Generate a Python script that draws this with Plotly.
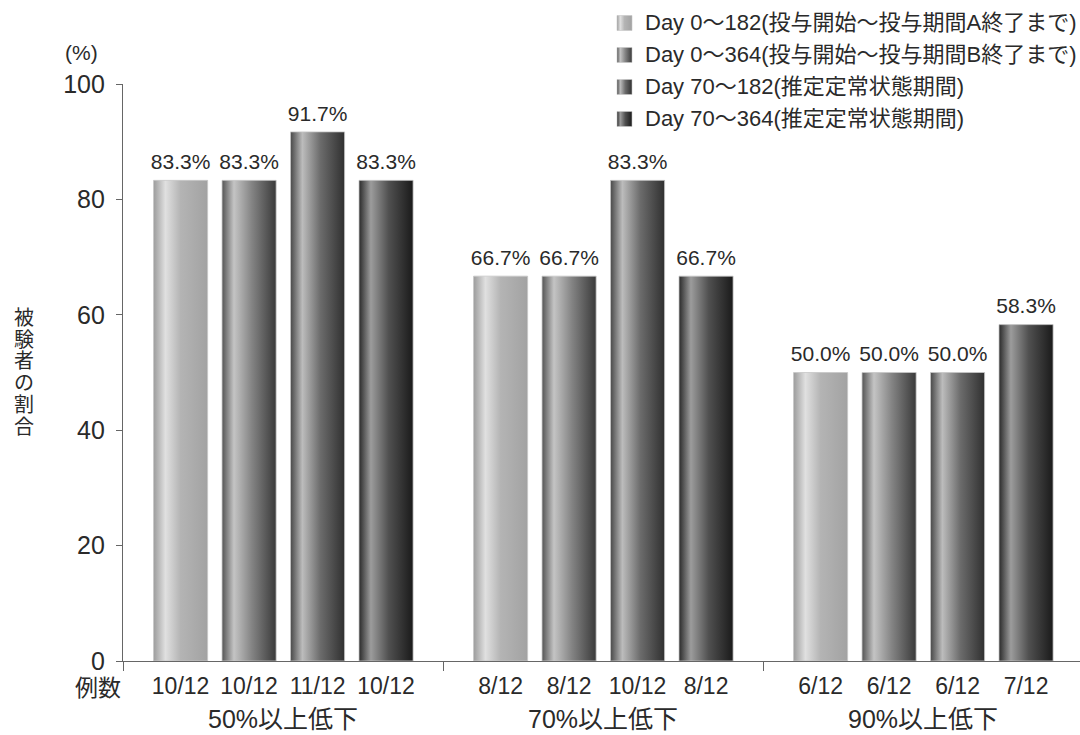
import plotly.graph_objects as go

W, H = 1080, 735
FONT = "Liberation Sans, Arial, Noto Sans CJK JP, sans-serif"
NARROW = "Liberation Sans Narrow, Arial Narrow, Liberation Sans, Noto Sans CJK JP, sans-serif"
TXT = "#2a2a2a"
AXIS = "#666666"

# ---- data ----
groups = ["50%以上低下", "70%以上低下", "90%以上低下"]
series_names = [
    "Day 0〜182(投与開始〜投与期間A終了まで)",
    "Day 0〜364(投与開始〜投与期間B終了まで)",
    "Day 70〜182(推定定常状態期間)",
    "Day 70〜364(推定定常状態期間)",
]
day0_182 = [83.3, 66.7, 50.0]
day0_364 = [83.3, 66.7, 50.0]
day70_182 = [91.7, 83.3, 50.0]
day70_364 = [83.3, 66.7, 58.3]
n_day0_182 = ["10/12", "8/12", "6/12"]
n_day0_364 = ["10/12", "8/12", "6/12"]
n_day70_182 = ["11/12", "10/12", "6/12"]
n_day70_364 = ["10/12", "8/12", "7/12"]
y_ticks = [0, 20, 40, 60, 80, 100]

values = [day0_182, day0_364, day70_182, day70_364]
counts = [n_day0_182, n_day0_364, n_day70_182, n_day70_364]

# ---- bar geometry within each group (group width = 1) ----
BAR_START, BAR_STEP, BAR_W = 0.18, 0.214, 0.169

# cylinder-like horizontal shading per series
gradients = [
    [[0, "#9c9c9c"], [0.22, "#e0e0e0"], [0.5, "#b4b4b4"], [1, "#a2a2a2"]],
    [[0, "#555555"], [0.22, "#c4c4c4"], [0.55, "#848484"], [1, "#3a3a3a"]],
    [[0, "#484848"], [0.22, "#bcbcbc"], [0.55, "#6c6c6c"], [1, "#303030"]],
    [[0, "#2a2a2a"], [0.22, "#9c9c9c"], [0.55, "#505050"], [1, "#1a1a1a"]],
]

fig = go.Figure()

centers, tops, labels, tick_text = [], [], [], []
for g in range(len(groups)):
    for s in range(len(values)):
        xc = g + BAR_START + s * BAR_STEP
        x0, x1 = xc - BAR_W / 2, xc + BAR_W / 2
        v = values[s][g]
        fig.add_trace(go.Scatter(
            x=[x0, x1, x1, x0, x0], y=[0, 0, v, v, 0],
            mode="lines", line=dict(color="#c6c6c6", width=0.8),
            fill="toself",
            fillgradient=dict(type="horizontal", colorscale=gradients[s],
                              start=x0, stop=x1),
            hoverinfo="skip", showlegend=False,
        ))
        centers.append(xc)
        tops.append(v)
        labels.append(f"{v:.1f}%")
        tick_text.append(counts[s][g])

# value labels above bars (invisible marker adds a little lift)
fig.add_trace(go.Scatter(
    x=centers, y=tops, text=labels, mode="text+markers", textposition="top center",
    marker=dict(size=8, color="rgba(0,0,0,0)"),
    textfont=dict(family=NARROW, size=21, color=TXT),
    xaxis="x3", yaxis="y", hoverinfo="skip", showlegend=False,
))

# ---- legend drawn in a full-page overlay ----
LEG_X0, LEG_SIZE, LEG_TEXT_X = 617, 15, 643
leg_rows = [23, 55, 87, 119]
for s, name in enumerate(series_names):
    yc = leg_rows[s]
    x0, x1 = LEG_X0, LEG_X0 + LEG_SIZE
    y0, y1 = yc - LEG_SIZE / 2, yc + LEG_SIZE / 2
    fig.add_trace(go.Scatter(
        x=[x0, x1, x1, x0, x0], y=[y0, y0, y1, y1, y0],
        mode="lines", line=dict(color="#c6c6c6", width=0.6), fill="toself",
        fillgradient=dict(type="horizontal", colorscale=gradients[s], start=x0, stop=x1),
        xaxis="x2", yaxis="y2", hoverinfo="skip", showlegend=False,
    ))
    fig.add_annotation(
        x=LEG_TEXT_X / W, y=1 - yc / H, xref="paper", yref="paper",
        text=name, showarrow=False, xanchor="left", yanchor="middle",
        font=dict(family=FONT, size=22, color=TXT),
    )

X_LEFT = 123
PX_PER_GROUP = 320
x_range = [0, (W - X_LEFT) / PX_PER_GROUP]
y_bottom, y_top = 1 - 661 / H, 1 - 84 / H

fig.update_layout(
    width=W, height=H,
    margin=dict(l=0, r=0, t=0, b=0, autoexpand=False),
    paper_bgcolor="white", plot_bgcolor="rgba(0,0,0,0)",
    showlegend=False,
    xaxis=dict(
        domain=[X_LEFT / W, 1], range=x_range, anchor="y", automargin=False,
        showline=True, linecolor=AXIS, linewidth=1.3,
        tickvals=[0, 1, 2], ticks="outside", ticklen=9, tickcolor=AXIS, tickwidth=1.3,
        showticklabels=False, showgrid=False, zeroline=False,
    ),
    xaxis3=dict(
        overlaying="x", range=x_range, anchor="y", side="bottom", automargin=False,
        tickvals=centers, ticktext=tick_text, ticks="",
        tickfont=dict(family=NARROW, size=23, color=TXT),
        ticklabelstandoff=9,
        showline=False, showgrid=False, zeroline=False,
    ),
    yaxis=dict(
        domain=[y_bottom, y_top], range=[0, 100], anchor="x", automargin=False,
        showline=True, linecolor=AXIS, linewidth=1.3,
        tickvals=y_ticks, ticks="outside", ticklen=6, tickcolor=AXIS, tickwidth=1.3,
        tickfont=dict(family=FONT, size=25, color=TXT),
        ticklabelstandoff=6,
        showgrid=False, zeroline=False,
    ),
    xaxis2=dict(domain=[0, 1], range=[0, W], anchor="y2", visible=False,
                fixedrange=True, automargin=False),
    yaxis2=dict(domain=[0, 1], range=[H, 0], anchor="x2", visible=False,
                fixedrange=True, automargin=False),
)


def caption(x_px, y_px, text, size):
    fig.add_annotation(x=x_px / W, y=1 - y_px / H, xref="paper", yref="paper",
                       text=text, showarrow=False, xanchor="center", yanchor="middle",
                       font=dict(family=FONT, size=size, color=TXT))


# axis captions
caption(81, 52, "(%)", 21)
Y_TITLE = "被験者の割合"
for i, ch in enumerate(Y_TITLE):
    caption(24, 318 + i * 21.7, ch, 20)
caption(98, 688, "例数", 23)
for g, name in enumerate(groups):
    fig.add_annotation(x=g + 0.5, y=1 - 719 / H, xref="x", yref="paper", text=name,
                       showarrow=False, xanchor="center", yanchor="middle",
                       font=dict(family=FONT, size=25, color=TXT))

fig.write_html("out.html")
